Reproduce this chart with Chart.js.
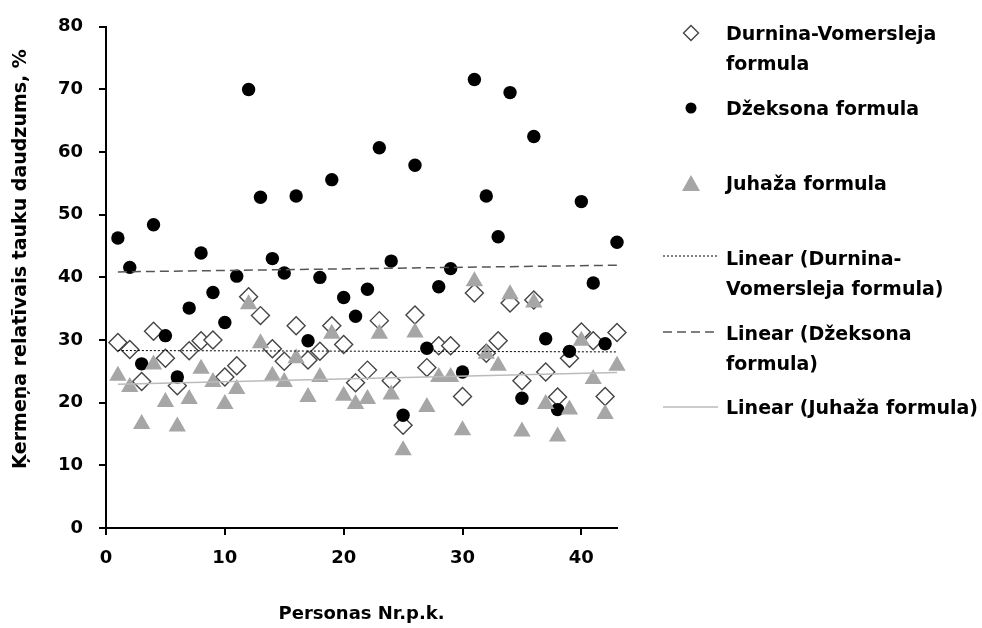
<!DOCTYPE html>
<html>
<head>
<meta charset="utf-8">
<script src="https://cdn.jsdelivr.net/npm/chart.js@4.4.0/dist/chart.umd.min.js"></script>
<style>
  body { margin: 0; background: #fff; }
  #wrap { position: relative; width: 982px; height: 628px; }
  #legend { position: absolute; left: 0; top: 0; font-family: "DejaVu Sans", sans-serif; font-weight: bold; font-size: 19px; color: #000; }
  .row { position: absolute; left: 726px; line-height: 30px; white-space: nowrap; }
  .mk { position: absolute; }
</style>
</head>
<body>
<div id="wrap">
  <canvas id="chart" width="982" height="628"></canvas>
  <div id="legend">
    <svg class="mk" style="left:682px;top:24px" width="18" height="18"><polygon points="9,1.5 16.5,9 9,16.5 1.5,9" fill="#fff" stroke="#444" stroke-width="1.4"/></svg>
    <div class="row" style="top:18px">Durnina-Vomersleja<br>formula</div>
    <svg class="mk" style="left:683px;top:100px" width="16" height="16"><circle cx="8" cy="8" r="5.5" fill="#000"/></svg>
    <div class="row" style="top:93px">Džeksona formula</div>
    <svg class="mk" style="left:681px;top:173px" width="20" height="20"><polygon points="10,2 19,18 1,18" fill="#a6a6a6"/></svg>
    <div class="row" style="top:168px">Juhaža formula</div>
    <svg class="mk" style="left:662px;top:251px" width="58" height="10"><line x1="1" y1="5" x2="56" y2="5" stroke="#000" stroke-width="1" stroke-dasharray="2,2"/></svg>
    <div class="row" style="top:243px">Linear (Durnina-<br>Vomersleja formula)</div>
    <svg class="mk" style="left:662px;top:327px" width="58" height="10"><line x1="1" y1="5" x2="56" y2="5" stroke="#555" stroke-width="1.5" stroke-dasharray="9,5"/></svg>
    <div class="row" style="top:318px">Linear (Džeksona<br>formula)</div>
    <svg class="mk" style="left:662px;top:402px" width="58" height="10"><line x1="1" y1="5" x2="56" y2="5" stroke="#bbb" stroke-width="1.5"/></svg>
    <div class="row" style="top:392px">Linear (Juhaža formula)</div>
  </div>
</div>
<script>
const persons = [1, 2, 3, 4, 5, 6, 7, 8, 9, 10, 11, 12, 13, 14, 15, 16, 17, 18, 19, 20, 21, 22,
  23, 24, 25, 26, 27, 28, 29, 30, 31, 32, 33, 34, 35, 36, 37, 38, 39, 40, 41, 42, 43];

const durnina = [29.6, 28.5, 23.4, 31.4, 27.1, 22.7, 28.3, 29.9, 30.0, 24.1, 25.9, 36.9, 33.9, 28.6,
  26.6, 32.3, 26.8, 28.2, 32.3, 29.3, 23.2, 25.2, 33.1, 23.5, 16.4, 34.0, 25.6, 29.1, 29.1, 21.0,
  37.5, 27.9, 29.9, 35.9, 23.5, 36.4, 24.9, 20.9, 27.1, 31.3, 29.9, 21.0, 31.2];

const dzeksona = [46.3, 41.6, 26.2, 48.4, 30.7, 24.1, 35.1, 43.9, 37.6, 32.8, 40.2, 70.0, 52.8, 43.0,
  40.7, 53.0, 29.9, 40.0, 55.6, 36.8, 33.8, 38.1, 60.7, 42.6, 18.0, 57.9, 28.7, 38.5, 41.4, 24.9,
  71.6, 53.0, 46.5, 69.5, 20.7, 62.5, 30.2, 18.9, 28.2, 52.1, 39.1, 29.4, 45.6];

const juhaza = [24.3, 22.5, 16.6, 26.1, 20.1, 16.2, 20.6, 25.4, 23.3, 19.8, 22.2, 35.7, 29.5, 24.3,
  23.3, 27.1, 20.9, 24.1, 31.0, 21.1, 19.8, 20.6, 31.0, 21.3, 12.4, 31.2, 19.3, 24.1, 24.1, 15.6,
  39.4, 27.8, 25.9, 37.3, 15.4, 36.0, 19.8, 14.6, 18.9, 29.9, 23.8, 18.2, 25.9];

const yTicks = [0, 10, 20, 30, 40, 50, 60, 70, 80];
const xTicks = [0, 10, 20, 30, 40];

const yTitle = 'Ķermeņa relatīvais tauku daudzums, %';

function pts(ys) {
  return persons.map((x, i) => ({ x: x, y: ys[i] }));
}

// linear trendline (least squares), like Excel's
function trend(ys) {
  const n = persons.length;
  let sx = 0, sy = 0, sxy = 0, sxx = 0;
  for (let i = 0; i < n; i++) {
    sx += persons[i]; sy += ys[i]; sxy += persons[i] * ys[i]; sxx += persons[i] * persons[i];
  }
  const b = (n * sxy - sx * sy) / (n * sxx - sx * sx);
  const a = (sy - b * sx) / n;
  const x0 = persons[0], x1 = persons[n - 1];
  return [{ x: x0, y: a + b * x0 }, { x: x1, y: a + b * x1 }];
}

const font = { family: '"DejaVu Sans", sans-serif', weight: 'bold', size: 18 };

// y title drawn by hand so it sits where the original has it
const yTitlePlugin = {
  id: 'yTitle',
  afterDraw(chart) {
    const ctx = chart.ctx;
    ctx.save();
    ctx.translate(21, 259);
    ctx.rotate(-Math.PI / 2);
    ctx.font = 'bold 19px "DejaVu Sans", sans-serif';
    ctx.fillStyle = '#000';
    ctx.textAlign = 'center';
    ctx.textBaseline = 'middle';
    ctx.fillText(yTitle, 0, 0);
    ctx.restore();
  }
};

new Chart(document.getElementById('chart').getContext('2d'), {
  type: 'scatter',
  data: {
    datasets: [
      { label: 'Durnina-Vomersleja formula', data: pts(durnina), pointStyle: 'rectRot', pointRadius: 9,
        backgroundColor: '#fff', borderColor: '#444', borderWidth: 1.4, order: 3 },
      { label: 'Džeksona formula', data: pts(dzeksona), pointStyle: 'circle', pointRadius: 6.7,
        backgroundColor: '#000', borderColor: '#000', borderWidth: 0, order: 2 },
      { label: 'Juhaža formula', data: pts(juhaza), pointStyle: 'triangle', pointRadius: 10,
        backgroundColor: '#a6a6a6', borderColor: '#a6a6a6', borderWidth: 0, order: 1 },
      { label: 'Linear (Durnina-Vomersleja formula)', type: 'line', data: trend(durnina), pointRadius: 0,
        borderColor: '#000', borderWidth: 1, borderDash: [2, 2], order: 0 },
      { label: 'Linear (Džeksona formula)', type: 'line', data: trend(dzeksona), pointRadius: 0,
        borderColor: '#555', borderWidth: 1.5, borderDash: [9, 5], order: 0 },
      { label: 'Linear (Juhaža formula)', type: 'line', data: trend(juhaza), pointRadius: 0,
        borderColor: '#bbb', borderWidth: 1.5, order: 0 }
    ]
  },
  options: {
    responsive: false,
    animation: false,
    clip: false,
    layout: { padding: { left: 0, right: 365, top: 25, bottom: 0 } },
    plugins: { legend: { display: false }, tooltip: { enabled: false } },
    scales: {
      x: {
        type: 'linear', min: 0, max: 43,
        afterBuildTicks: s => { s.ticks = xTicks.map(v => ({ value: v })); },
        afterFit: s => { s.height = 100; },
        ticks: { color: '#000', font: font, padding: 13 },
        grid: { drawOnChartArea: false, color: '#000', lineWidth: 2, tickLength: 7 },
        border: { color: '#000', width: 2 },
        title: { display: true, text: 'Personas Nr.p.k.', color: '#000', font: font, padding: { top: 0, bottom: 3 } }
      },
      y: {
        min: 0, max: 80,
        afterBuildTicks: s => { s.ticks = yTicks.map(v => ({ value: v })); },
        afterFit: s => { s.width = 106; },
        ticks: { color: '#000', font: font, padding: 16 },
        grid: { drawOnChartArea: false, color: '#000', lineWidth: 2, tickLength: 7 },
        border: { color: '#000', width: 2 }
      }
    }
  },
  plugins: [yTitlePlugin]
});
</script>
</body>
</html>
